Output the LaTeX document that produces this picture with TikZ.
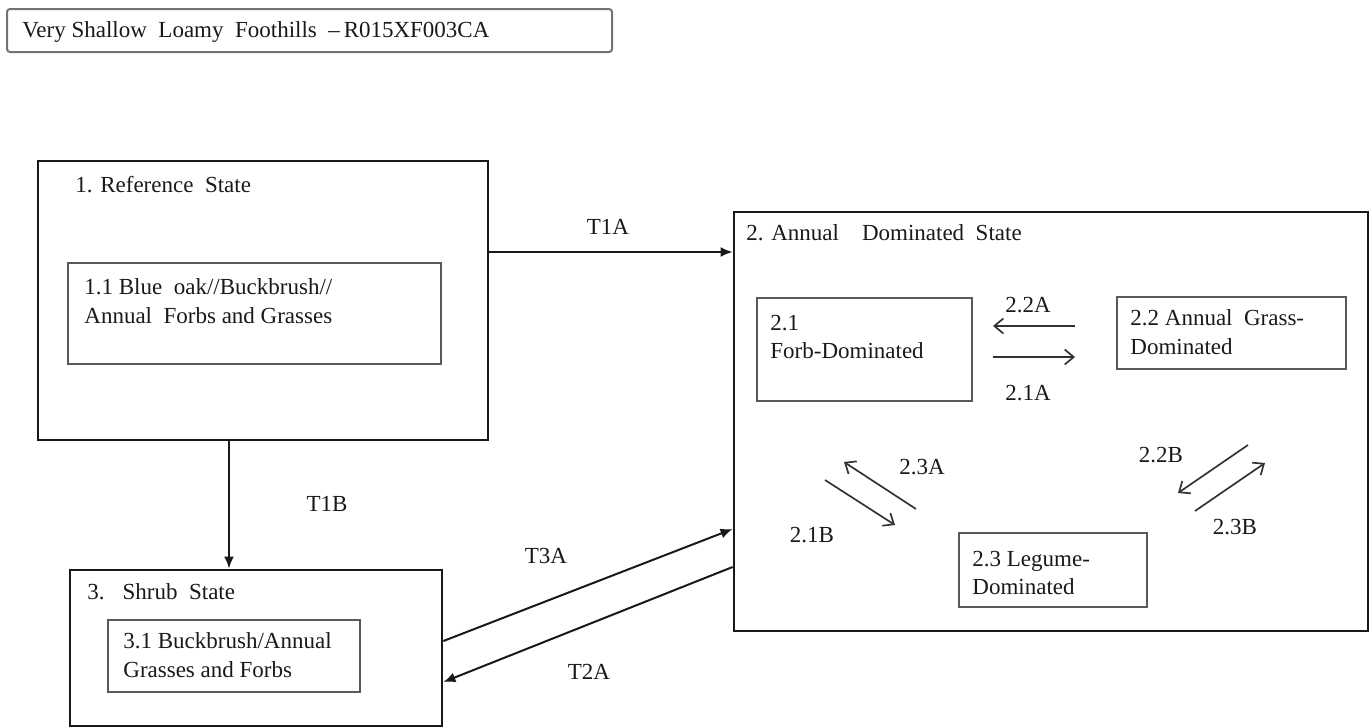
\documentclass[tikz,border=0pt]{standalone}
\usepackage{fontspec}
\setmainfont{Liberation Serif}
\usetikzlibrary{arrows.meta, positioning, fit}

\begin{document}
\begin{tikzpicture}[
            x=0.5pt, y=-0.5pt,
            font=\fontsize{11.5pt}{14.3pt}\selectfont,
            statebox/.style={draw=black!90, line width=1.4pt, inner sep=0pt, fit={#1}},
            communitybox/.style={draw=black!65, line width=0.9pt, inner sep=0pt, fit={#1}},
            titlebox/.style={draw=black!55, line width=1pt, rounded corners=1.5pt, inner sep=0pt, fit={#1}},
            boxtext/.style={inner sep=0pt, align=left, anchor=west, text=black!90},
            tlabel/.style={inner sep=0pt, text=black!90},
            transition/.style={draw=black!90, line width=1pt, -{Latex[length=6pt, width=5pt]}},
            pathway/.style={draw=black!80, line width=0.85pt, -{Straight Barb[length=4.5pt, width=7.5pt]}}
            ]

            \useasboundingbox (0,0) rectangle (1372,728);

            % Title
            \node[titlebox={(7,9) (612,52)}] (title) {};
            \node[boxtext] (titletext) at (22,32) {Very Shallow~ Loamy~ Foothills~ --\,R015XF003CA};

            % States
            \node[statebox={(38,161) (488,440)}] (ref) {};
            \node[statebox={(734,212) (1368,631)}] (annual) {};
            \node[statebox={(70,570) (442,726)}] (shrub) {};
            \node[boxtext] (reftext) at (75,185) {1. Reference~ State};
            \node[boxtext] (annualtext) at (746,233) {2. Annual~ ~ Dominated~ State};
            \node[boxtext] (shrubtext) at (87,592) {3.\hspace{9pt}Shrub~ State};

            % Community phases
            \node[communitybox={(68,263) (441,364)}] (c11) {};
            \node[communitybox={(757,298) (972,401)}] (c21) {};
            \node[communitybox={(1117,297) (1346,369)}] (c22) {};
            \node[communitybox={(959,533) (1147,607)}] (c23) {};
            \node[communitybox={(108,620) (360,692)}] (c31) {};
            \node[boxtext] (c11text) at (84,301) {1.1 Blue~ oak//Buckbrush//\\Annual~ Forbs and Grasses};
            \node[boxtext] (c21text) at (770,337) {2.1\\Forb-Dominated};
            \node[boxtext] (c22text) at (1130,332) {2.2 Annual~ Grass-\\Dominated};
            \node[boxtext] (c23text) at (972,573) {2.3 Legume-\\Dominated};
            \node[boxtext] (c31text) at (123,655) {3.1 Buckbrush/Annual\\Grasses and Forbs};

            % Transitions between states
            \draw[transition] (ref.east |- 0,252) -- (annual.west |- 0,252);
            \draw[transition] (ref.south -| 229,0) -- (shrub.north -| 229,0);
            \draw[transition] (shrub.east |- 0,641) -- (annual.west |- 0,529);
            \draw[transition] (annual.west |- 0,567) -- (shrub.east |- 0,682);
            \foreach \name/\lx/\ly/\ltext in {t1a/608/227/T1A, t1b/327/504/T1B, t3a/546/556/T3A, t2a/589/672/T2A} {
                \node[tlabel] (\name) at (\lx,\ly) {\ltext};
            }

            % Community pathways
            \foreach \name/\xa/\ya/\xb/\yb/\lx/\ly/\ltext in {
                p22a/1075/326/993/326/1028/305/2.2A,
                p21a/993/357/1075/357/1028/393/2.1A,
                p23a/916/509/844/462/922/467/2.3A,
                p21b/825/480/895/525/812/535/2.1B,
                p22b/1248/445/1178/493/1161/455/2.2B,
                p23b/1195/511/1265/463/1235/527/2.3B
            } {
                \coordinate (\name-s) at (\xa,\ya);
                \coordinate (\name-e) at (\xb,\yb);
                \draw[pathway] (\name-s) -- (\name-e);
                \node[tlabel] (\name) at (\lx,\ly) {\ltext};
            }
\end{tikzpicture}
\end{document}
